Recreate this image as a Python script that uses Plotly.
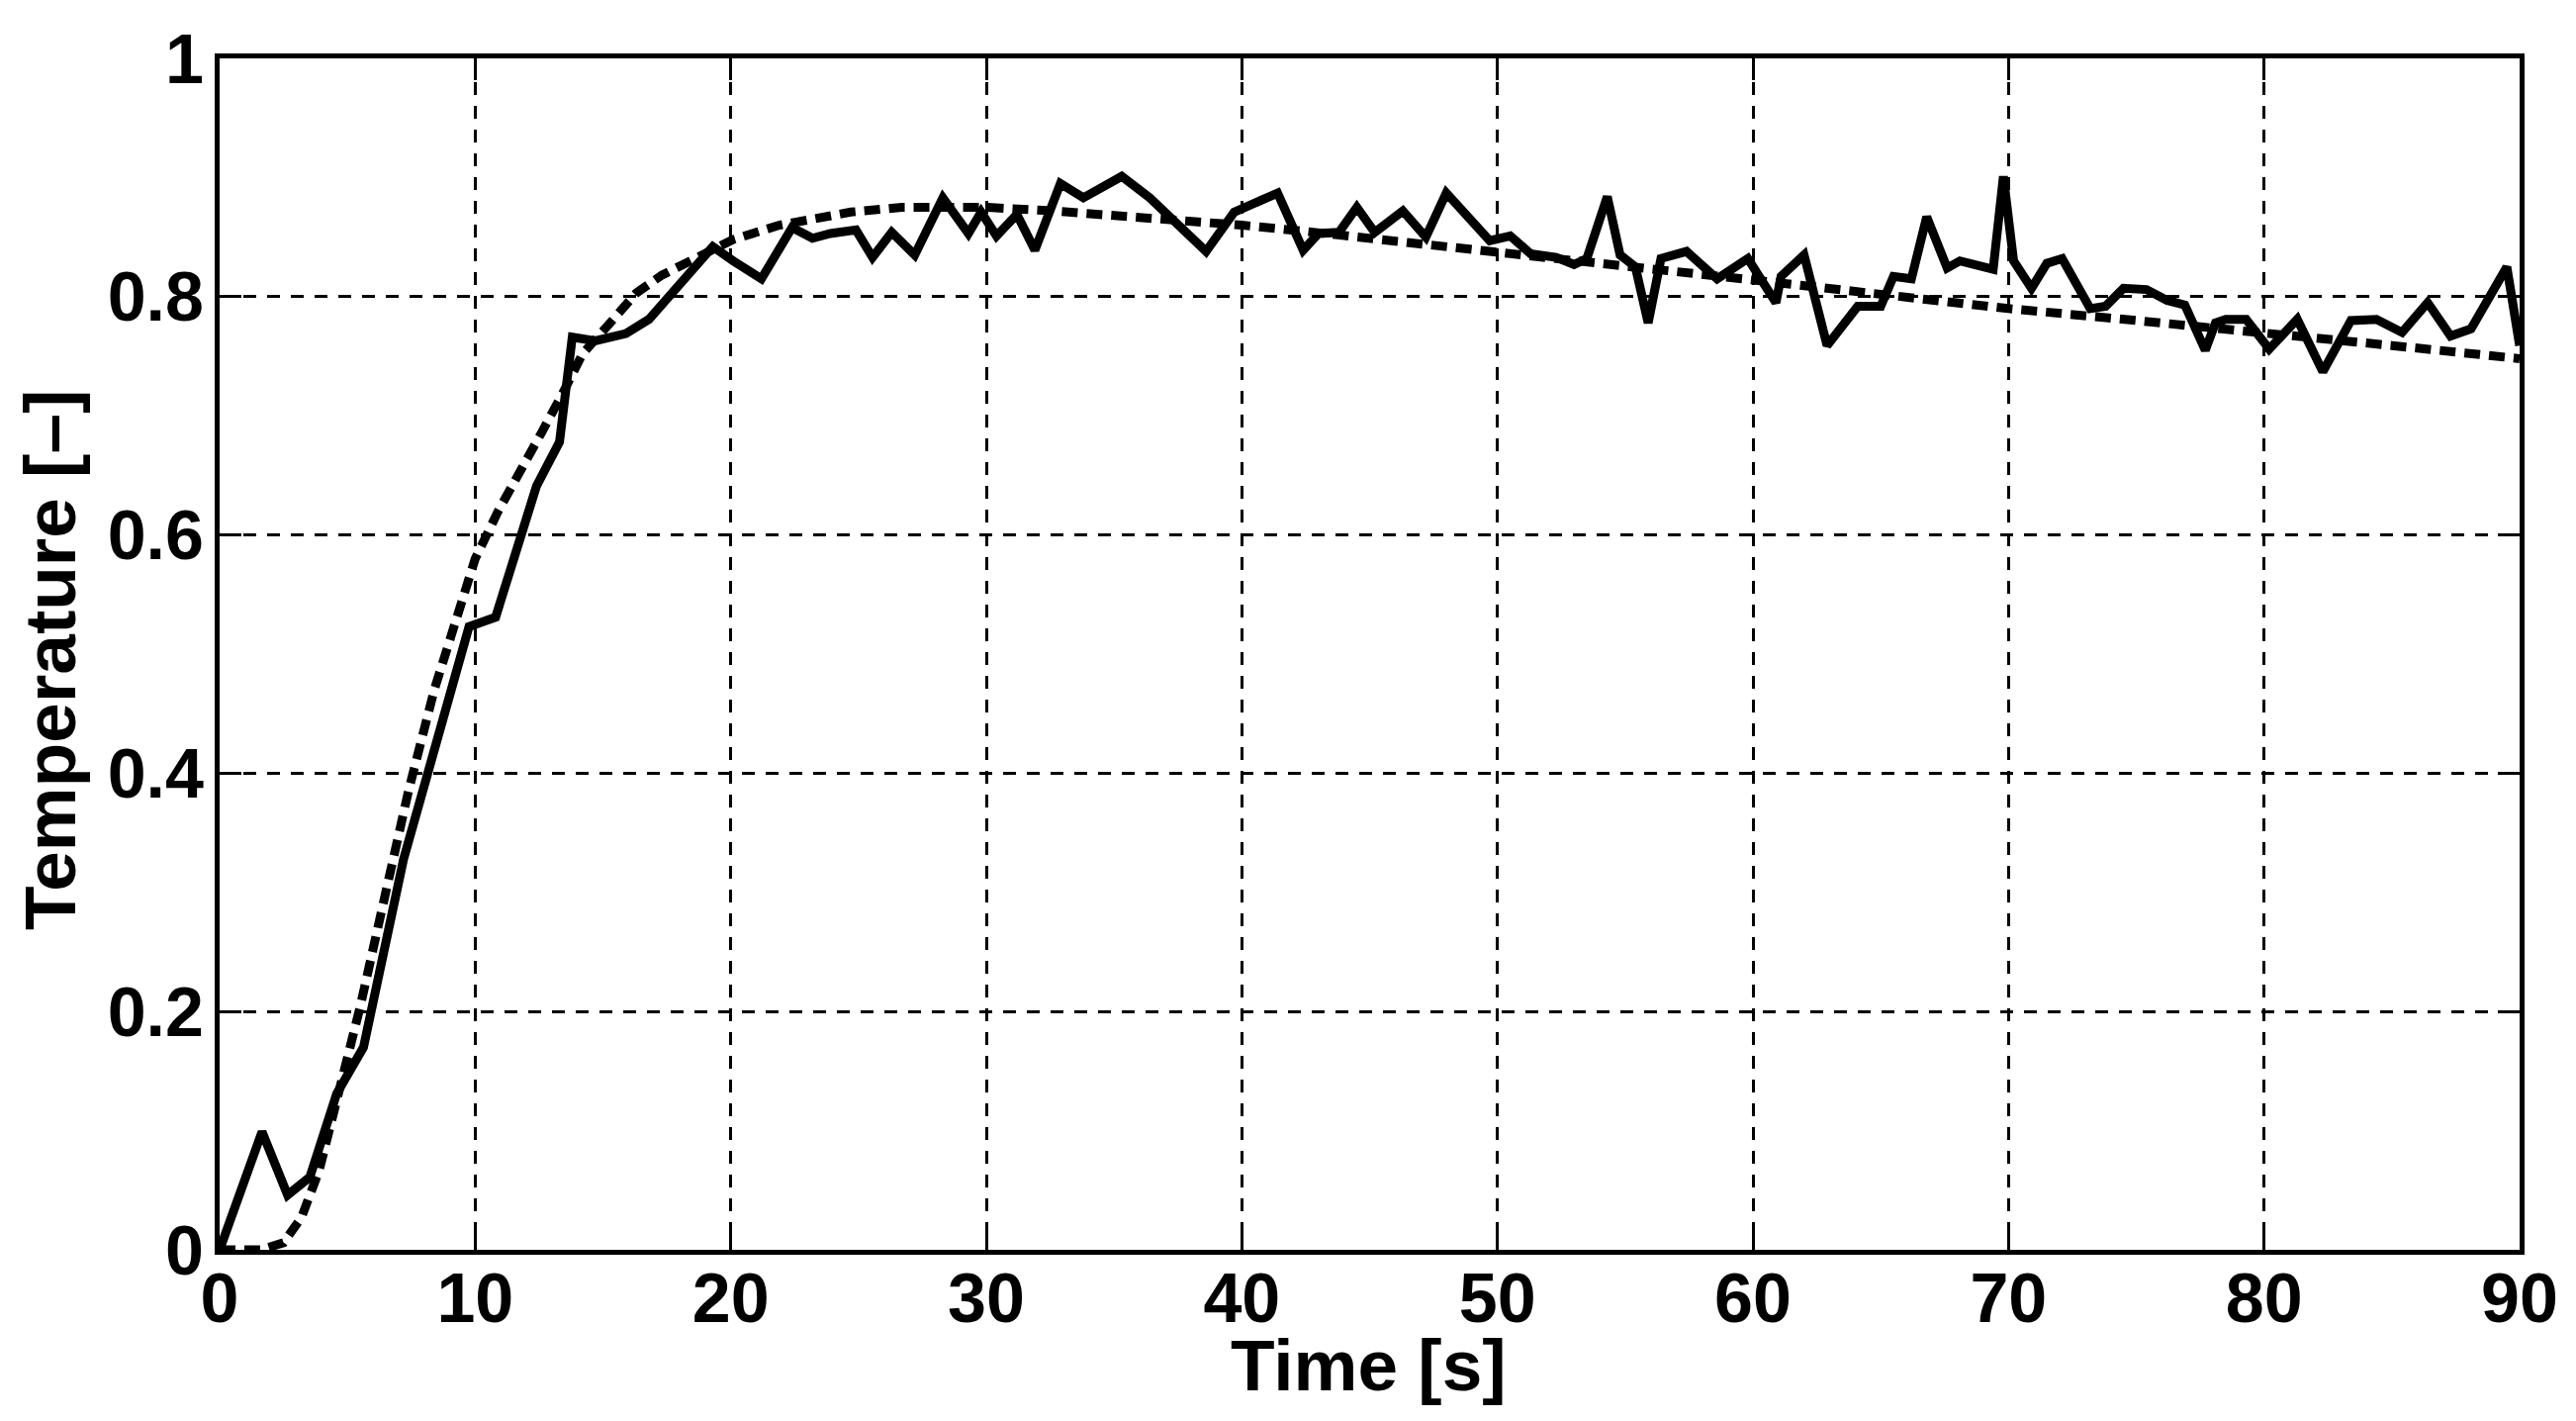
import plotly.graph_objects as go

# Measured (noisy) temperature
meas_t = [0, 1.66, 2.66, 3.53, 4.58, 5.63, 7.2, 9.3, 9.76, 10.8, 12.4, 13.3, 13.8, 14.7, 15.9,
          16.8, 19.3, 20.1, 21.2, 22.4, 23.2, 23.9, 24.9, 25.55, 26.3, 27.2, 28.3, 29.3, 29.8,
          30.4, 31.2, 31.9, 32.9, 33.8, 35.3, 36.4, 37.3, 38.6, 39.7, 41.4, 42.4, 43.0, 43.8,
          44.5, 45.2, 46.3, 47.2, 48.0, 49.7, 50.5, 51.3, 52.3, 53.0, 53.5, 54.3, 54.8, 55.4,
          55.9, 56.4, 57.4, 58.6, 59.8, 60.9, 61.1, 62.0, 62.9, 64.1, 65.0, 65.5, 66.2, 66.8,
          67.6, 68.1, 69.4, 69.8, 70.2, 70.9, 71.5, 72.1, 73.2, 73.8, 74.5, 75.4, 76.2, 76.9,
          77.7, 78.1, 78.5, 79.3, 80.2, 81.3, 82.3, 83.4, 84.4, 85.4, 86.4, 87.3, 88.1, 89.5, 90.0]
meas_v = [0, 0.099, 0.046, 0.061, 0.131, 0.170, 0.328, 0.489, 0.523, 0.531, 0.641, 0.678, 0.766,
          0.763, 0.769, 0.781, 0.842, 0.830, 0.815, 0.858, 0.849, 0.853, 0.856, 0.833, 0.854,
          0.835, 0.883, 0.853, 0.871, 0.851, 0.869, 0.839, 0.895, 0.883, 0.901, 0.883, 0.864,
          0.838, 0.871, 0.887, 0.839, 0.853, 0.854, 0.875, 0.854, 0.872, 0.850, 0.887, 0.847,
          0.851, 0.836, 0.833, 0.827, 0.832, 0.884, 0.835, 0.825, 0.778, 0.832, 0.838, 0.815,
          0.832, 0.795, 0.817, 0.835, 0.759, 0.792, 0.792, 0.817, 0.815, 0.867, 0.824, 0.830,
          0.823, 0.901, 0.830, 0.807, 0.828, 0.832, 0.790, 0.792, 0.807, 0.806, 0.797, 0.793,
          0.755, 0.778, 0.781, 0.781, 0.756, 0.781, 0.737, 0.780, 0.781, 0.770, 0.795, 0.767,
          0.773, 0.825, 0.759]

# Model (smooth) temperature
model_t = [0, 1.6, 2.5, 3.2, 3.9, 4.6, 5.5, 6.5, 7.4, 8.4, 9.5, 10, 10.9, 11.75, 12.6, 13.5, 14.2,
           15.2, 16.3, 17.3, 18.4, 20.1, 21.9, 24.7, 26.7, 30, 32.6, 36.5, 40, 42.4, 46.4, 50,
           55, 60, 65, 70, 75, 80, 85, 90]
model_v = [0, 0, 0.006, 0.027, 0.067, 0.125, 0.204, 0.30, 0.386, 0.470, 0.548, 0.580, 0.620,
           0.652, 0.686, 0.722, 0.752, 0.776, 0.803, 0.818, 0.830, 0.848, 0.860, 0.871, 0.875,
           0.875, 0.872, 0.866, 0.860, 0.855, 0.846, 0.838, 0.826, 0.814, 0.802, 0.790, 0.780,
           0.770, 0.759, 0.748]

x_ticks = list(range(0, 91, 10))
y_ticks = [0, 0.2, 0.4, 0.6, 0.8, 1]
y_ticktext = ["0", "0.2", "0.4", "0.6", "0.8", "1"]
x_title = "Time [s]"
y_title = "Temperature [–]"

fig = go.Figure()
fig.add_trace(go.Scatter(x=meas_t, y=meas_v, mode="lines",
                         line=dict(color="black", width=9), showlegend=False))
fig.add_trace(go.Scatter(x=model_t, y=model_v, mode="lines",
                         line=dict(color="black", width=9, dash="16px,9px"), showlegend=False))

font_fam = "Liberation Sans, Arial, Helvetica, sans-serif"
axis_common = dict(
    showline=True, linecolor="black", linewidth=5, mirror="ticks",
    ticks="inside", ticklen=22, tickwidth=3, tickcolor="black",
    showgrid=True, gridcolor="black", gridwidth=2.5, griddash="13px,11px",
    zeroline=False,
    tickfont=dict(family=font_fam, size=70, color="black", weight="bold"),
)

fig.update_xaxes(range=[0, 90], tickvals=x_ticks, ticktext=[str(v) for v in x_ticks],
                 ticklabelstandoff=-16, **axis_common)
fig.update_yaxes(range=[0, 1], tickvals=y_ticks, ticktext=y_ticktext,
                 ticklabelstandoff=-3, **axis_common)

title_font = dict(family=font_fam, size=73, color="black", weight="bold")
fig.add_annotation(text=x_title, xref="paper", yref="paper", x=0.4995, y=-0.097,
                   xanchor="center", yanchor="middle", showarrow=False, font=title_font)
fig.add_annotation(text=y_title, xref="paper", yref="paper", x=-0.074, y=0.495,
                   xanchor="center", yanchor="middle", textangle=-90, showarrow=False,
                   font=title_font)

fig.update_layout(
    width=2604, height=1436,
    margin=dict(l=214, r=65, t=49, b=181),
    plot_bgcolor="white", paper_bgcolor="white",
)

fig.write_html("out.html")
